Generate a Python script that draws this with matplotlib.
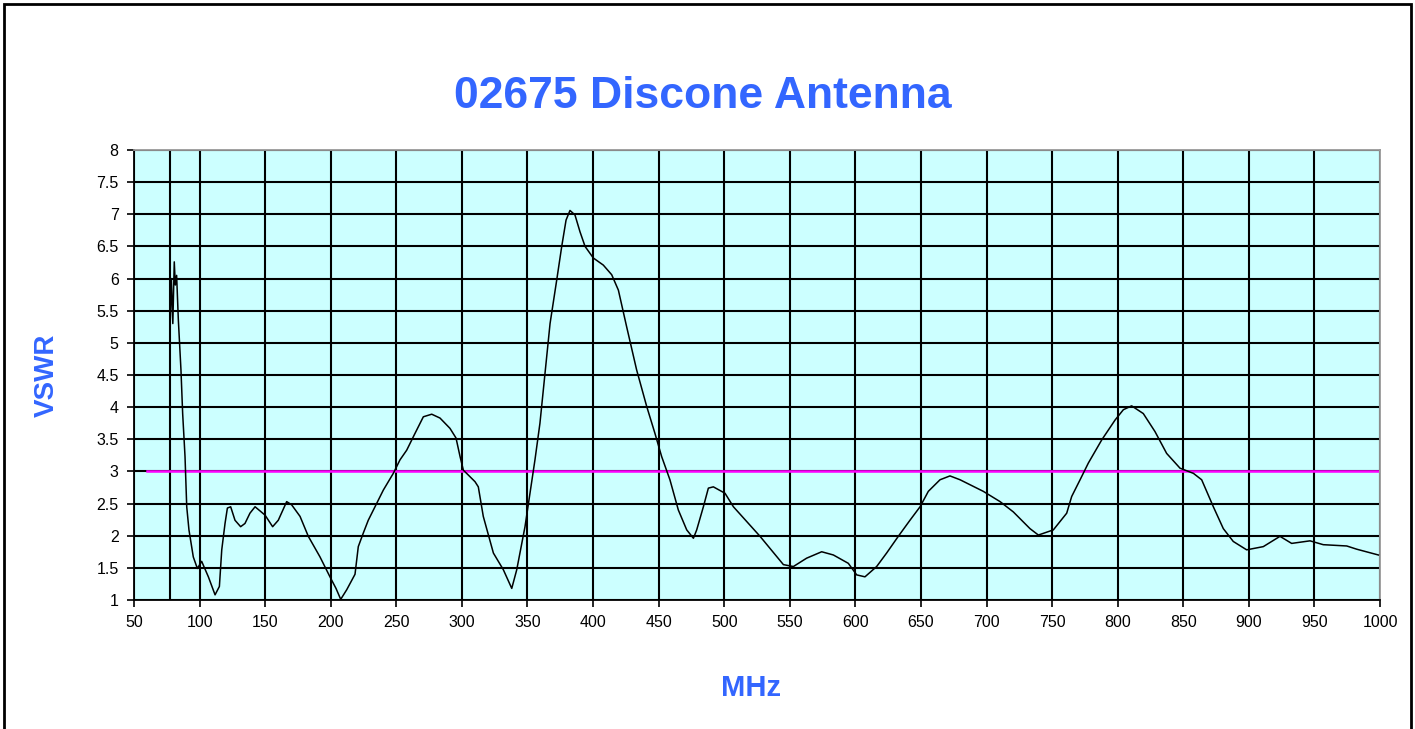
import numpy as np
import matplotlib
matplotlib.use("Agg")
import matplotlib.pyplot as plt
from matplotlib.ticker import MultipleLocator, FormatStrFormatter
from matplotlib.patches import Rectangle

plt.rcParams['font.family'] = ['Liberation Sans', 'DejaVu Sans']

title = "02675 Discone Antenna"
x_label = "MHz"
y_label = "VSWR"

freq = [77.5, 77.4, 78.5, 79.6, 80.7, 81.5, 82.5, 83.8, 85.8, 87.1, 88.9, 90.2,
        91.9, 95.2, 98.3, 101.6, 106.7, 111.8, 115.1, 116.9, 119.4, 121.2,
        123.7, 127.0, 131.3, 134.6, 138.4, 142.3, 149.9, 155.7, 160.0, 166.4,
        170.2, 176.6, 182.9, 191.8, 199.4, 204.0, 207.6, 212.2, 218.5, 221.0,
        224.8, 228.6, 233.7, 240.1, 247.7, 252.8, 257.9, 264.2, 270.6, 277.0,
        283.3, 290.9, 295.5, 298.6, 301.1, 310.0, 312.5, 316.3, 324.0, 331.6,
        338.0, 341.8, 348.1, 351.9, 355.7, 359.5, 363.4, 367.2, 372.3, 376.1,
        379.4, 382.4, 386.2, 390.0, 393.9, 400.2, 407.8, 414.2, 419.3, 425.6,
        433.2, 440.9, 447.2, 452.3, 458.6, 465.0, 471.4, 476.5, 479.0, 484.1,
        487.9, 491.7, 500.6, 507.0, 527.3, 545.1, 552.7, 562.8, 574.3, 583.2,
        594.6, 601.0, 607.3, 616.2, 623.8, 632.7, 641.6, 649.3, 655.6, 664.5,
        672.1, 679.8, 697.5, 710.3, 720.4, 733.1, 739.5, 750.9, 761.1, 764.9,
        771.3, 777.6, 787.8, 798.0, 804.3, 810.6, 819.5, 828.4, 837.3, 847.5,
        857.7, 864.0, 872.9, 880.5, 888.1, 898.3, 911.0, 923.7, 932.6, 946.6,
        956.7, 974.6, 982.2, 998.7]
vswr = [5.9, 5.17, 6.0, 5.3, 6.26, 5.9, 6.05, 5.36, 4.58, 3.90, 3.23, 2.45,
        2.09, 1.67, 1.49, 1.60, 1.36, 1.08, 1.21, 1.78, 2.19, 2.43,
        2.45, 2.24, 2.14, 2.19, 2.35, 2.45, 2.32, 2.14, 2.24, 2.53,
        2.48, 2.30, 1.99, 1.67, 1.36, 1.18, 1.01, 1.16, 1.40, 1.83,
        2.04, 2.24, 2.45, 2.71, 2.97, 3.18, 3.33, 3.59, 3.85, 3.89,
        3.83, 3.67, 3.52, 3.23, 3.02, 2.84, 2.76, 2.30, 1.73, 1.47,
        1.18, 1.47, 2.14, 2.66, 3.18, 3.75, 4.53, 5.30, 5.98, 6.50,
        6.91, 7.06, 6.99, 6.73, 6.50, 6.32, 6.21, 6.06, 5.82, 5.25,
        4.58, 4.01, 3.59, 3.23, 2.87, 2.40, 2.09, 1.96, 2.09, 2.45,
        2.74, 2.76, 2.66, 2.45, 1.99, 1.55, 1.52, 1.65, 1.75, 1.70,
        1.57, 1.39, 1.36, 1.52, 1.73, 1.99, 2.24, 2.45, 2.69, 2.87,
        2.93, 2.87, 2.69, 2.53, 2.37, 2.11, 2.01, 2.09, 2.35, 2.61,
        2.87, 3.13, 3.49, 3.80, 3.96, 4.02, 3.90, 3.62, 3.28, 3.05,
        2.97, 2.87, 2.45, 2.11, 1.91, 1.78, 1.83, 1.99, 1.88, 1.92,
        1.86, 1.84, 1.79, 1.70]

limit_freq = [60, 1000]
limit_vswr = [3, 3]
marker_freq = 77.4

fig = plt.figure(figsize=(14.15, 7.29), dpi=100)
fig.patches.append(Rectangle((0.003, -0.01), 0.994, 1.005, transform=fig.transFigure,
                             fill=False, edgecolor="black", linewidth=2))

ax = fig.add_axes([0.0947, 0.177, 0.8806, 0.6172])
ax.set_facecolor("#CCFFFF")

ax.set_xlim(50, 1000)
ax.set_ylim(1, 8)
ax.xaxis.set_major_locator(MultipleLocator(50))
ax.yaxis.set_major_locator(MultipleLocator(0.5))
ax.yaxis.set_major_formatter(FormatStrFormatter('%g'))
ax.grid(True, color="black", linewidth=1.5)
ax.set_axisbelow(True)
ax.axvline(marker_freq, color="black", linewidth=1.5, zorder=0.5)

ax.plot(limit_freq, limit_vswr, color="#FF00FF", linewidth=1.8, zorder=2)
ax.plot(freq, vswr, color="black", linewidth=1.1, zorder=3)

ax.tick_params(axis="both", direction="out", length=5, width=1.2, labelsize=11.5,
               colors="black", pad=6)
for s in ["left", "bottom"]:
    ax.spines[s].set_color("black")
    ax.spines[s].set_linewidth(1.3)
for s in ["top", "right"]:
    ax.spines[s].set_color("#999999")
    ax.spines[s].set_linewidth(1.3)

fig.text(0.497, 0.867, title, ha="center", va="center", color="#3366FF",
         fontsize=32, fontweight="bold")
fig.text(0.531, 0.056, x_label, ha="center", va="center", color="#3366FF",
         fontsize=21, fontweight="bold")
fig.text(0.033, 0.485, y_label, ha="center", va="center", color="#3366FF",
         fontsize=20, fontweight="bold", rotation=90)

fig.savefig("out.png", dpi=100)
